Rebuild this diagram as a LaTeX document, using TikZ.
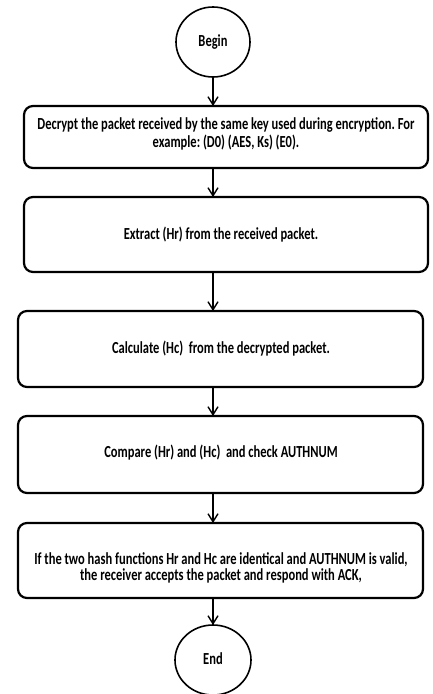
\documentclass[tikz,border=0pt]{standalone}
\usepackage{fontspec}
\setmainfont{Carlito}
\usetikzlibrary{arrows.meta}
\newcommand{\vstr}[1]{\scalebox{1}[1.35]{\begin{tabular}{@{}c@{}}#1\end{tabular}}}
\begin{document}
\frenchspacing
\begin{tikzpicture}[x=1pt,y=-1pt,
  txt/.style={font=\fontsize{12.5}{12}\selectfont\bfseries,align=center,inner sep=0pt},
  arr/.style={line width=1.4pt,-{Straight Barb[length=8pt,width=10pt,line width=1.4pt]}},
  boxline/.style={line width=2.2pt,rounded corners=9pt},
  circline/.style={line width=1.6pt}
]
\useasboundingbox (0,0) rectangle (432,694);
\draw[circline] (213,42) ellipse (37pt and 35pt);
\node[txt] (begin) at (213,43) {\vstr{Begin}};
\coordinate (bb) at (213,77);
\draw[boxline] (24,106) rectangle (428,168);
\coordinate (b1t) at (213,106); \coordinate (b1b) at (213,168);
\node[txt] (t1) at (226,135) {\vstr{Decrypt the packet received by the same key used during encryption. For\\example: (D0) (AES, Ks) (E0).}};
\draw[boxline] (24,197) rectangle (428,272);
\coordinate (b2t) at (213,197); \coordinate (b2b) at (213,272);
\node[txt] (t2) at (221,236) {\vstr{Extract (Hr) from the received packet.}};
\draw[boxline] (18,311) rectangle (423,387);
\coordinate (b3t) at (213,311); \coordinate (b3b) at (213,387);
\node[txt] (t3) at (221,350) {\vstr{Calculate (Hc)\ \ from the decrypted packet.}};
\draw[boxline] (18,416) rectangle (423,493);
\coordinate (b4t) at (213,416); \coordinate (b4b) at (213,493);
\node[txt] (t4) at (221,454) {\vstr{Compare (Hr) and (Hc)\ \ and check AUTHNUM}};
\draw[boxline] (18,523) rectangle (423,598);
\coordinate (b5t) at (213,523); \coordinate (b5b) at (213,598);
\node[txt] (t5) at (221,569) {\vstr{If the two hash functions Hr and Hc are identical and AUTHNUM is valid,\\the receiver accepts the packet and respond with ACK,}};
\draw[circline] (213,660) ellipse (38pt and 35pt);
\node[txt] (end) at (213,661) {\vstr{End}};
\coordinate (et) at (213,625);
\draw[arr] (bb) -- (b1t);
\draw[arr] (b1b) -- (b2t);
\draw[arr] (b2b) -- (b3t);
\draw[arr] (b3b) -- (b4t);
\draw[arr] (b4b) -- (b5t);
\draw[arr] (b5b) -- (et);
\end{tikzpicture}
\end{document}
